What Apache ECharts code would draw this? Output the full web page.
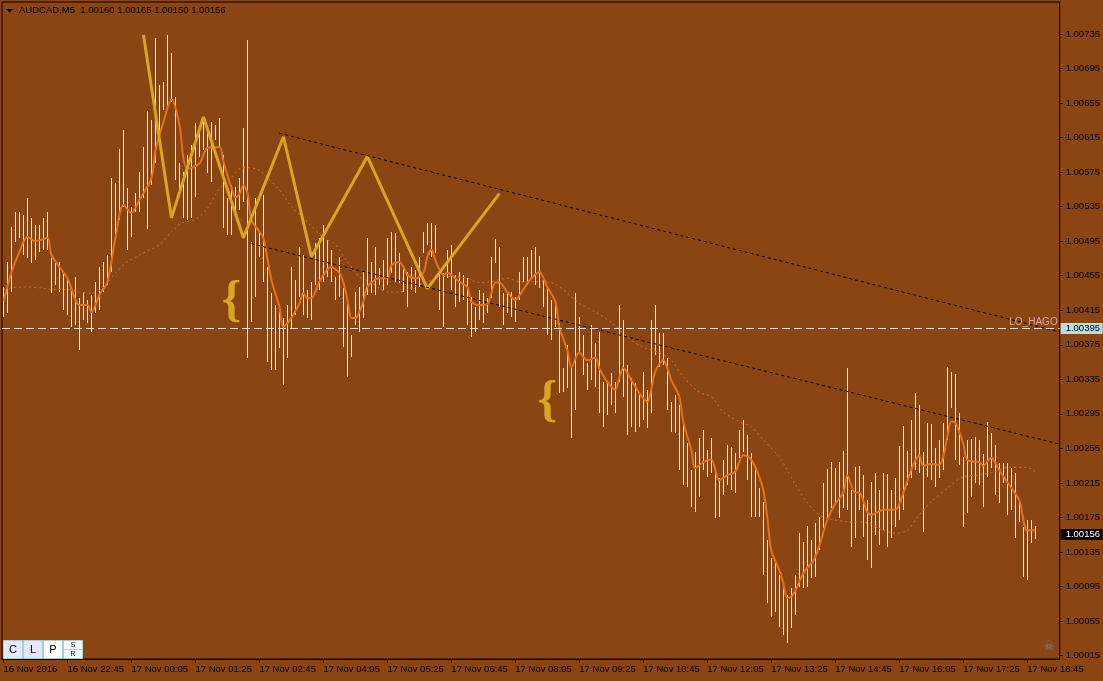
<!DOCTYPE html>
<html><head><meta charset="utf-8">
<script src="https://cdn.jsdelivr.net/npm/echarts@6/dist/echarts.min.js"></script>
<style>html,body{margin:0;padding:0;background:#8B4513;}#c{width:1103px;height:681px;}</style>
</head><body><div id="c"></div>
<script>
// ---- data (AUDCAD M5, bars indexed from 16 Nov 21:25) ----
const symbol = 'AUDCAD,M5';
const lastOHLC = [1.00160, 1.00165, 1.00150, 1.00156];
const highs = [
1.00442,1.00471,1.00511,1.00529,1.00529,1.00525,1.00545,1.00522,1.00514,1.00514,
1.00522,1.00529,1.00476,1.00471,1.00471,1.00459,1.00452,1.00442,1.00454,1.00429,
1.00436,1.00427,1.00433,1.00448,1.00465,1.00471,1.00479,1.00568,1.00562,1.00602,
1.00624,1.00557,1.00535,1.00551,1.00575,1.00604,1.00646,1.00635,1.00730,1.00676,
1.00679,1.00734,1.00713,1.00662,1.00586,1.00575,1.00595,1.00606,1.00632,1.00620,
1.00638,1.00626,1.00633,1.00630,1.00638,1.00595,1.00545,1.00560,1.00558,1.00568,
1.00626,1.00728,1.00494,1.00545,1.00506,1.00549,1.00465,1.00435,1.00421,1.00413,
1.00406,1.00421,1.00465,1.00450,1.00488,1.00479,1.00439,1.00448,1.00493,1.00499,
1.00514,1.00496,1.00485,1.00454,1.00477,1.00441,1.00427,1.00386,1.00436,1.00442,
1.00459,1.00499,1.00471,1.00488,1.00464,1.00473,1.00499,1.00506,1.00505,1.00481,
1.00465,1.00459,1.00465,1.00462,1.00477,1.00506,1.00516,1.00516,1.00514,1.00464,
1.00458,1.00485,1.00491,1.00456,1.00459,1.00456,1.00452,1.00430,1.00419,1.00439,
1.00435,1.00429,1.00477,1.00498,1.00488,1.00435,1.00435,1.00436,1.00430,1.00459,
1.00477,1.00477,1.00485,1.00488,1.00478,1.00450,1.00442,1.00427,1.00427,1.00400,
1.00348,1.00375,1.00348,1.00435,1.00407,1.00386,1.00354,1.00398,1.00377,1.00390,
1.00332,1.00331,1.00342,1.00332,1.00421,1.00404,1.00352,1.00337,1.00331,1.00320,
1.00344,1.00323,1.00404,1.00421,1.00389,1.00389,1.00360,1.00309,1.00317,1.00305,
1.00288,1.00261,1.00230,1.00251,1.00267,1.00276,1.00253,1.00267,1.00232,1.00221,
1.00242,1.00259,1.00257,1.00250,1.00276,1.00288,1.00271,1.00250,1.00230,1.00209,
1.00193,1.00149,1.00128,1.00126,1.00108,1.00094,1.00085,1.00093,1.00108,1.00157,
1.00147,1.00165,1.00149,1.00169,1.00176,1.00215,1.00231,1.00239,1.00232,1.00239,
1.00252,1.00348,1.00207,1.00233,1.00235,1.00224,1.00195,1.00216,1.00227,1.00207,
1.00227,1.00225,1.00207,1.00221,1.00258,1.00281,1.00252,1.00288,1.00319,1.00305,
1.00251,1.00284,1.00283,1.00255,1.00265,1.00284,1.00349,1.00344,1.00341,1.00296,
1.00245,1.00265,1.00266,1.00268,1.00265,1.00249,1.00286,1.00273,1.00259,1.00238,
1.00238,1.00238,1.00232,1.00227,1.00193,1.00164,1.00172,1.00172,1.00165];
const lows = [
1.00407,1.00412,1.00436,1.00494,1.00499,1.00479,1.00476,1.00470,1.00473,1.00483,
1.00485,1.00485,1.00435,1.00444,1.00436,1.00415,1.00410,1.00396,1.00398,1.00369,
1.00404,1.00400,1.00390,1.00412,1.00415,1.00436,1.00444,1.00459,1.00502,1.00520,
1.00535,1.00485,1.00500,1.00529,1.00529,1.00545,1.00509,1.00560,1.00586,1.00610,
1.00647,1.00649,1.00656,1.00566,1.00551,1.00522,1.00520,1.00522,1.00546,1.00593,
1.00601,1.00574,1.00564,1.00612,1.00604,1.00510,1.00502,1.00502,1.00528,1.00531,
1.00540,1.00360,1.00401,1.00430,1.00477,1.00448,1.00355,1.00346,1.00346,1.00371,
1.00328,1.00360,1.00394,1.00410,1.00430,1.00410,1.00406,1.00404,1.00444,1.00439,
1.00448,1.00454,1.00448,1.00427,1.00430,1.00372,1.00338,1.00361,1.00398,1.00390,
1.00406,1.00433,1.00435,1.00433,1.00444,1.00439,1.00444,1.00458,1.00448,1.00447,
1.00436,1.00419,1.00439,1.00435,1.00442,1.00481,1.00491,1.00477,1.00481,1.00415,
1.00396,1.00452,1.00439,1.00419,1.00425,1.00427,1.00398,1.00384,1.00390,1.00404,
1.00400,1.00412,1.00429,1.00470,1.00419,1.00398,1.00412,1.00407,1.00401,1.00427,
1.00448,1.00448,1.00452,1.00444,1.00441,1.00419,1.00386,1.00381,1.00396,1.00319,
1.00320,1.00325,1.00267,1.00300,1.00366,1.00340,1.00323,1.00334,1.00326,1.00296,
1.00280,1.00294,1.00305,1.00296,1.00332,1.00315,1.00271,1.00280,1.00274,1.00280,
1.00288,1.00279,1.00296,1.00363,1.00349,1.00352,1.00300,1.00274,1.00273,1.00230,
1.00213,1.00210,1.00187,1.00181,1.00199,1.00230,1.00222,1.00227,1.00174,1.00176,
1.00201,1.00213,1.00207,1.00203,1.00244,1.00251,1.00218,1.00176,1.00176,1.00176,
1.00108,1.00076,1.00060,1.00066,1.00048,1.00039,1.00030,1.00047,1.00062,1.00094,
1.00093,1.00094,1.00105,1.00106,1.00137,1.00163,1.00174,1.00186,1.00189,1.00174,
1.00186,1.00184,1.00141,1.00151,1.00184,1.00152,1.00126,1.00116,1.00155,1.00143,
1.00160,1.00141,1.00151,1.00164,1.00172,1.00184,1.00213,1.00221,1.00230,1.00227,
1.00158,1.00222,1.00218,1.00210,1.00221,1.00230,1.00265,1.00302,1.00242,1.00236,
1.00164,1.00180,1.00199,1.00215,1.00213,1.00187,1.00222,1.00232,1.00201,1.00192,
1.00215,1.00178,1.00184,1.00151,1.00170,1.00106,1.00103,1.00145,1.00150];
// fast moving average [bar, value]
const fastMA = [[0,1.00425],[2,1.00459],[4,1.00483],[6,1.00500],[8,1.00495],[11,1.00499],[12,1.00479],[16,1.00452],[19,1.00421],[21,1.00421],[22,1.00413],[24,1.00433],[26,1.00448],[28,1.00499],[30,1.00537],[32,1.00528],[34,1.00543],[37,1.00568],[38,1.00600],[40,1.00633],[42,1.00659],[44,1.00630],[45,1.00591],[46,1.00579],[49,1.00585],[51,1.00603],[54,1.00604],[55,1.00587],[57,1.00557],[58,1.00546],[59,1.00549],[60,1.00560],[61,1.00551],[62,1.00520],[64,1.00506],[65,1.00499],[67,1.00450],[69,1.00419],[70,1.00396],[72,1.00406],[74,1.00423],[75,1.00435],[76,1.00429],[77,1.00429],[79,1.00448],[82,1.00465],[84,1.00458],[85,1.00447],[86,1.00427],[87,1.00406],[88,1.00406],[90,1.00425],[91,1.00442],[94,1.00452],[96,1.00452],[97,1.00467],[99,1.00471],[100,1.00465],[101,1.00456],[103,1.00452],[105,1.00458],[106,1.00477],[107,1.00485],[108,1.00473],[110,1.00456],[111,1.00458],[112,1.00456],[114,1.00448],[116,1.00442],[117,1.00425],[119,1.00421],[121,1.00422],[123,1.00447],[124,1.00447],[126,1.00436],[128,1.00427],[130,1.00439],[132,1.00452],[134,1.00459],[136,1.00442],[138,1.00425],[139,1.00396],[141,1.00369],[142,1.00349],[144,1.00366],[146,1.00357],[148,1.00360],[149,1.00348],[151,1.00332],[153,1.00323],[154,1.00337],[155,1.00348],[157,1.00334],[159,1.00319],[160,1.00313],[161,1.00309],[163,1.00344],[165,1.00357],[167,1.00334],[169,1.00315],[170,1.00286],[172,1.00253],[173,1.00232],[175,1.00239],[177,1.00242],[179,1.00218],[181,1.00224],[183,1.00228],[185,1.00247],[187,1.00242],[189,1.00222],[190,1.00207],[191,1.00176],[192,1.00137],[194,1.00114],[195,1.00099],[196,1.00082],[197,1.00083],[198,1.00090],[200,1.00110],[203,1.00129],[206,1.00172],[208,1.00191],[210,1.00203],[211,1.00224],[213,1.00204],[214,1.00204],[216,1.00181],[217,1.00178],[220,1.00184],[223,1.00184],[225,1.00203],[227,1.00230],[229,1.00247],[230,1.00235],[232,1.00237],[234,1.00236],[235,1.00245],[236,1.00268],[237,1.00286],[238,1.00285],[240,1.00261],[241,1.00242],[244,1.00239],[245,1.00235],[247,1.00244],[249,1.00230],[251,1.00216],[254,1.00195],[256,1.00160],[258,1.00160]];
// slow moving average [bar, value]
const slowMA = [[0,1.00430],[2,1.00441],[5,1.00442],[9,1.00441],[12,1.00439],[16,1.00439],[19,1.00436],[22,1.00435],[25,1.00441],[28,1.00458],[31,1.00471],[34,1.00479],[39,1.00491],[42,1.00506],[45,1.00517],[48,1.00520],[51,1.00533],[54,1.00556],[57,1.00569],[59,1.00579],[61,1.00580],[64,1.00577],[69,1.00554],[72,1.00535],[76,1.00517],[80,1.00499],[83,1.00491],[86,1.00471],[89,1.00454],[92,1.00447],[96,1.00436],[99,1.00436],[101,1.00439],[106,1.00448],[109,1.00454],[112,1.00454],[116,1.00452],[119,1.00447],[122,1.00448],[126,1.00452],[129,1.00448],[132,1.00448],[137,1.00447],[140,1.00439],[144,1.00423],[148,1.00413],[152,1.00401],[156,1.00384],[160,1.00372],[164,1.00366],[167,1.00357],[170,1.00338],[174,1.00320],[177,1.00315],[180,1.00297],[184,1.00286],[187,1.00280],[190,1.00265],[194,1.00245],[196,1.00230],[198,1.00213],[201,1.00192],[204,1.00178],[207,1.00173],[211,1.00170],[216,1.00169],[220,1.00160],[223,1.00157],[226,1.00160],[229,1.00178],[232,1.00193],[236,1.00209],[240,1.00222],[244,1.00224],[248,1.00228],[251,1.00233],[256,1.00233],[258,1.00228]];
const zigzag = [[35,1.00734],[42,1.00522],[50,1.00639],[60,1.00499],[70,1.00616],[77,1.00477],[91,1.00593],[106,1.00440],[124,1.00550]];
const trendUpper = [[69,1.00620],[264,1.00390]];
const trendLower = [[62,1.00492],[264,1.00260]];
const braces = [[57,1.00425],[136,1.00309]];
const levelLine = 1.00395;
const levelName = 'LO_HAGO';
const bidPrice = 1.00156;
const xTickBars = [0,16,32,48,64,80,96,112,128,144,160,176,192,208,224,240,256];
const xTickLabels = ['16 Nov 2016','16 Nov 22:45','17 Nov 00:05','17 Nov 01:25','17 Nov 02:45','17 Nov 04:05','17 Nov 05:25','17 Nov 06:45','17 Nov 08:05','17 Nov 09:25','17 Nov 10:45','17 Nov 12:05','17 Nov 13:25','17 Nov 14:45','17 Nov 16:05','17 Nov 17:25','17 Nov 18:45'];
const yTicks = [1.00015,1.00055,1.00095,1.00135,1.00175,1.00215,1.00255,1.00295,1.00335,1.00375,1.00415,1.00455,1.00495,1.00535,1.00575,1.00615,1.00655,1.00695,1.00735];

// ---- chart ----
const FONT = 'Liberation Sans';
const barData = highs.map((h, i) => [i, h, lows[i]]);
const chart = echarts.init(document.getElementById('c'), null, {renderer: 'canvas'});
const maColor = '#E2721F';

// price-box on right axis + optional horizontal line (built through the y scale)
function levelRenderer(opts) {
  return function (params, api) {
    const cs = params.coordSys;
    const y = Math.round(api.coord([0, api.value(1)])[1]);
    const children = [];
    if (opts.line) {
      children.push({type: 'line', shape: {x1: cs.x, y1: y + 0.5, x2: cs.x + cs.width, y2: y + 0.5},
        style: {stroke: opts.line, lineWidth: 1, lineDash: [8, 4]}});
    }
    if (opts.name) {
      children.push({type: 'text', x: cs.x + cs.width - 2, y: y - 1,
        style: {text: opts.name, fill: opts.nameColor, font: '10px "Liberation Sans"',
          textAlign: 'right', align: 'right', textVerticalAlign: 'bottom', verticalAlign: 'bottom'}});
    }
    children.push({type: 'rect', shape: {x: cs.x + cs.width + 1, y: y - 5, width: 42, height: 11}, style: {fill: opts.boxFill}});
    children.push({type: 'text', x: cs.x + cs.width + 6, y: y + 0.5,
      style: {text: api.value(1).toFixed(5), fill: opts.boxText, font: '9.5px "Liberation Sans"',
        textAlign: 'left', align: 'left', textVerticalAlign: 'middle', verticalAlign: 'middle'}});
    return {type: 'group', children: children};
  };
}

const option = {
  backgroundColor: '#8B4513',
  animation: false,
  grid: {left: 2, top: 2, right: 43, bottom: 22, show: true, borderColor: '#000', borderWidth: 1},
  xAxis: {
    type: 'value', min: -0.375, max: 264.125,
    axisLine: {show: true, onZero: false, lineStyle: {color: '#000', width: 1}},
    axisTick: {show: true, inside: false, length: 4, customValues: xTickBars, lineStyle: {color: '#000'}},
    axisLabel: {customValues: xTickBars, align: 'left', margin: 5, color: '#000', fontFamily: FONT, fontSize: 9.5,
      formatter: v => xTickLabels[xTickBars.indexOf(Math.round(v))] || ''},
    splitLine: {show: false}, minorTick: {show: false}
  },
  yAxis: {
    type: 'value', position: 'right', min: 1.00011, max: 1.0077207,
    axisLine: {show: true, onZero: false, lineStyle: {color: '#000', width: 1}},
    axisTick: {show: true, inside: false, length: 3, customValues: yTicks, lineStyle: {color: '#000'}},
    axisLabel: {customValues: yTicks, margin: 6, color: '#000', fontFamily: FONT, fontSize: 9.5,
      formatter: v => v.toFixed(5)},
    splitLine: {show: false}, minorTick: {show: false}
  },
  series: [
    {
      type: 'custom', name: 'bars', z: 2, data: barData, encode: {x: 0, y: [1, 2]},
      renderItem: function (params, api) {
        const hi = api.coord([api.value(0), api.value(1)]);
        const lo = api.coord([api.value(0), api.value(2)]);
        const top = Math.round(hi[1]);
        return {type: 'rect', shape: {x: Math.floor(hi[0]), y: top, width: 1, height: Math.max(1, Math.round(lo[1]) - top)},
          style: {fill: '#FFF8DC'}};
      }
    },
    {type: 'line', name: 'slowMA', z: 3, data: slowMA, symbol: 'none', smooth: 0.3,
      lineStyle: {color: maColor, width: 1, type: [2, 3]}},
    {type: 'line', name: 'fastMA', z: 4, data: fastMA, symbol: 'none', smooth: 0.3,
      lineStyle: {color: maColor, width: 2}},
    {type: 'line', name: 'zigzag', z: 5, data: zigzag, symbol: 'none',
      lineStyle: {color: '#DAA520', width: 3}},
    {type: 'line', name: 'trendUpper', z: 6, data: trendUpper, symbol: 'none',
      lineStyle: {color: '#000', width: 1, type: [3, 3]}},
    {type: 'line', name: 'trendLower', z: 6, data: trendLower, symbol: 'none',
      lineStyle: {color: '#000', width: 1, type: [3, 3]}},
    {
      type: 'custom', name: 'braces', z: 7, data: braces, encode: {x: 0, y: 1},
      renderItem: function (params, api) {
        const p = api.coord([api.value(0), api.value(1)]);
        return {type: 'text', x: p[0], y: p[1],
          style: {text: '{', fill: '#DAA520', font: 'bold 50px "Liberation Serif"',
            textAlign: 'center', align: 'center', textVerticalAlign: 'middle', verticalAlign: 'middle'}};
      }
    },
    {type: 'custom', name: 'level', z: 8, clip: false, data: [[0, levelLine]], encode: {x: 0, y: 1},
      renderItem: levelRenderer({line: '#dfe6ea', name: levelName, nameColor: '#dca6a2', boxFill: '#B0E0E6', boxText: '#000'})},
    {type: 'custom', name: 'bid', z: 8, clip: false, data: [[0, bidPrice]], encode: {x: 0, y: 1},
      renderItem: levelRenderer({boxFill: '#000', boxText: '#fff'})}
  ],
  graphic: [
    {type: 'polygon', shape: {points: [[6, 9], [13, 9], [9.5, 12.5]]}, style: {fill: '#000'}},
    {type: 'text', x: 19, y: 10.5, style: {text: symbol + '  ' + lastOHLC.map(v => v.toFixed(5)).join(' '),
      fill: '#000', font: '9.5px "Liberation Sans"', textVerticalAlign: 'middle', verticalAlign: 'middle'}},
    {type: 'rect', shape: {x: 3.5, y: 640.5, width: 19, height: 18}, style: {fill: '#E6E6FA', stroke: '#9FD3D6', lineWidth: 1}},
    {type: 'rect', shape: {x: 23.5, y: 640.5, width: 19, height: 18}, style: {fill: '#E6E6FA', stroke: '#9FD3D6', lineWidth: 1}},
    {type: 'rect', shape: {x: 43.5, y: 640.5, width: 19, height: 18}, style: {fill: '#FFFFFF', stroke: '#9FD3D6', lineWidth: 1}},
    {type: 'rect', shape: {x: 63.5, y: 640.5, width: 19, height: 18}, style: {fill: '#FFFFFF', stroke: '#9FD3D6', lineWidth: 1}},
    {type: 'line', shape: {x1: 64, y1: 649.5, x2: 82, y2: 649.5}, style: {stroke: '#9FD3D6', lineWidth: 1}},
    {type: 'text', x: 13, y: 650, style: {text: 'C', fill: '#000', font: '11px "Liberation Sans"', textAlign: 'center', align: 'center', textVerticalAlign: 'middle', verticalAlign: 'middle'}},
    {type: 'text', x: 33, y: 650, style: {text: 'L', fill: '#000', font: '11px "Liberation Sans"', textAlign: 'center', align: 'center', textVerticalAlign: 'middle', verticalAlign: 'middle'}},
    {type: 'text', x: 53, y: 650, style: {text: 'P', fill: '#000', font: '11px "Liberation Sans"', textAlign: 'center', align: 'center', textVerticalAlign: 'middle', verticalAlign: 'middle'}},
    {type: 'text', x: 73, y: 645.5, style: {text: 'S', fill: '#000', font: '7px "Liberation Sans"', textAlign: 'center', align: 'center', textVerticalAlign: 'middle', verticalAlign: 'middle'}},
    {type: 'text', x: 73, y: 654.5, style: {text: 'R', fill: '#000', font: '7px "Liberation Sans"', textAlign: 'center', align: 'center', textVerticalAlign: 'middle', verticalAlign: 'middle'}},
    {type: 'text', x: 1049, y: 647, style: {text: '\u2620', fill: '#7d7d7d', font: '13px "DejaVu Sans"', textAlign: 'center', align: 'center', textVerticalAlign: 'middle', verticalAlign: 'middle'}}
  ]
};
chart.setOption(option);
</script></body></html>
